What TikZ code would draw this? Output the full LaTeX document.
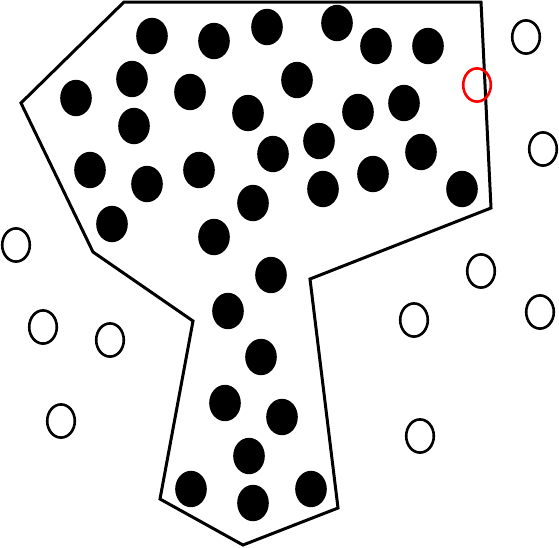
\documentclass[tikz,border=0pt]{standalone}
\begin{document}
\begin{tikzpicture}[x=1pt,y=-1pt,
    dot/.style={fill=black},
    hollow/.style={draw=black,line width=2.6pt},
    marked/.style={draw=red,line width=2.6pt}]
    \useasboundingbox (0,0) rectangle (559,547);

    % Outline of the cluster
    \draw[line width=3pt] (124,2) -- (481,2) -- (491,208) -- (310,279) -- (338,508)
        -- (243,545) -- (160,499) -- (193,321) -- (93,252) -- (21,103) -- cycle;

    % Points inside the outline
    \foreach \x/\y in {152/36,214/41,267/27,337/23,376/46,428/46,
        132/79,76/98,190/92,297/80,248/113,358/112,404/103,
        134/126,273/154,319/141,421/152,
        90/170,147/184,199/170,323/189,373/174,462/189,
        253/203,112/224,214/237,
        271/275,228/311,261/357,225/403,282/417,249/456,
        191/489,253/503,311/489}
        \fill[dot] (\x,\y) ellipse (15.8pt and 18.2pt);

    % Points outside the outline
    \foreach \x/\y in {526/37,543/149,16/245,481/271,43/327,110/340,
        414/320,540/312,61/421,420/436}
        \draw[hollow] (\x,\y) ellipse (13.8pt and 16.6pt);

    % Point on the outline
    \draw[marked] (477,85) ellipse (13.8pt and 16.6pt);
\end{tikzpicture}
\end{document}
